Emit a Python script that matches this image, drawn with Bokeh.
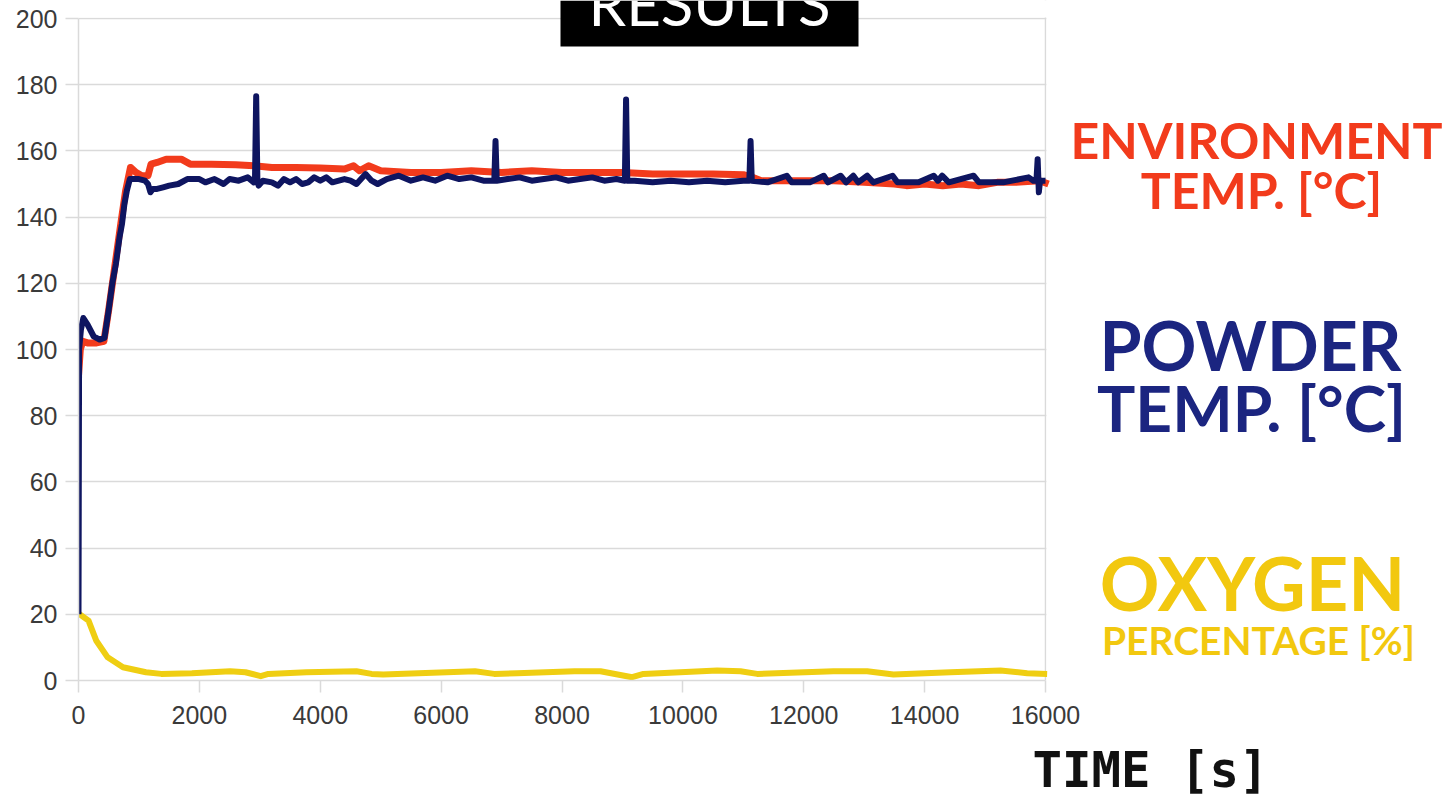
from bokeh.plotting import figure
from bokeh.models import Range1d, FixedTicker, Label, BoxAnnotation, LinearAxis
from bokeh.embed import file_html
from bokeh.resources import INLINE

# ---------------- data ----------------
x_ticks = [0, 2000, 4000, 6000, 8000, 10000, 12000, 14000, 16000]
y_ticks = [0, 20, 40, 60, 80, 100, 120, 140, 160, 180, 200]

env_t = [0, 30, 70, 150, 300, 420, 500, 600, 700, 780, 860, 950, 1050, 1150, 1200,
         1300, 1450, 1700, 1850, 2200, 2600, 2900, 3200, 3600, 4000, 4400, 4550,
         4650, 4800, 5000, 5500, 6000, 6500, 7000, 7500, 8000, 8500, 9000, 9500,
         10000, 10500, 11000, 11150, 11300, 12000, 12500, 13000, 13500, 13700,
         14000, 14300, 14600, 14900, 15200, 15500, 15900, 16050]
env_v = [92, 100, 102.5, 102, 102, 102.5, 112, 125, 138, 148, 155, 153.5, 152.5,
         152.5, 156, 156.5, 157.5, 157.5, 156, 156, 155.8, 155.5, 155, 155, 154.8,
         154.5, 155.5, 154, 155.5, 154, 153.5, 153.5, 154, 153.5, 154, 153.5, 153.5,
         153.5, 153, 153, 153, 152.8, 152, 151, 151, 151, 150.5, 150, 149.5, 150,
         149.5, 150, 149.5, 150.5, 150.5, 151, 150]

pow_t = [0, 10, 40, 80, 150, 250, 350, 430, 500, 560, 620, 680, 720, 760, 800, 850,
         900, 1000, 1100, 1150, 1190, 1230, 1300, 1400, 1500, 1650, 1800, 2000, 2100,
         2250, 2400, 2500, 2650, 2800, 2900, 2920, 2940, 2960, 2980, 3050, 3200, 3300,
         3400, 3500, 3600, 3700, 3800, 3900, 4000, 4100, 4200, 4400, 4500, 4600, 4750,
         4850, 4950, 5100, 5300, 5500, 5700, 5900, 6100, 6300, 6500, 6700, 6880, 6900,
         6920, 7100, 7300, 7500, 7700, 7900, 8100, 8300, 8500, 8700, 8900, 9040, 9060,
         9080, 9200, 9500, 9800, 10100, 10400, 10700, 11000, 11100, 11120, 11140,
         11400, 11720, 11800, 12100, 12330, 12400, 12610, 12700, 12820, 12900, 13050,
         13150, 13470, 13550, 13900, 14150, 14220, 14290, 14400, 14810, 14900, 15300,
         15720, 15800, 15850, 15870, 15890, 15910, 16000]
pow_v = [20, 100, 106, 109.5, 107.5, 104, 103, 103.5, 112, 120, 126, 134, 138, 144,
         148, 151.5, 151.5, 151.5, 151, 150, 147.5, 148.5, 148.5, 149, 149.5, 150,
         151.5, 151.5, 150.5, 151.5, 150, 151.5, 151, 152, 150.5, 151, 176.5, 151,
         149.5, 151, 150.5, 149.5, 151.5, 150.5, 151.5, 150, 150.5, 152, 151, 152,
         150.5, 151.5, 151, 150, 153, 151, 150, 151.5, 152.5, 151, 152, 151, 152.5,
         151.5, 152, 151, 151, 163, 151, 151.5, 152, 151, 151.5, 152, 151, 151.5,
         152, 151, 151.5, 151, 175.5, 151, 151, 150.5, 151, 150.5, 151, 150.5, 151,
         151, 163, 151, 150.5, 152.5, 150.5, 150.5, 152.5, 150.5, 152.5, 150.5,
         152.5, 150.5, 152.5, 150.5, 152.5, 150.5, 150.5, 152.5, 151, 152.5, 150.5,
         152.5, 150.5, 150.5, 152, 151, 151, 157.5, 147.5, 151, 151]

oxy_t = [0, 166, 292, 482, 736, 1116, 1369, 1876, 2508, 2762, 3015, 3142, 3772, 4598,
         4849, 5041, 6561, 6878, 7257, 8207, 8637, 9161, 9348, 10567, 10953, 11229,
         12492, 13049, 13485, 14427, 15255, 15697, 16027]
oxy_v = [20.3, 18.1, 12.1, 7.0, 4.0, 2.5, 2.0, 2.2, 2.8, 2.5, 1.3, 2.0, 2.5, 2.8, 2.0,
         1.8, 2.8, 2.0, 2.2, 2.8, 2.8, 1.0, 2.0, 3.0, 2.8, 2.0, 2.8, 2.8, 1.8, 2.5,
         3.0, 2.2, 2.0]

X_MAX, Y_MAX = 16000, 200

RED = "#F23B1C"
NAVY_LINE = "#0E1560"
NAVY_TEXT = "#1B2580"
YEL_LINE = "#EFCE12"
YEL_TEXT = "#F2C80F"
GRID = "#DADADA"

# ---------------- layout geometry (pixels) ----------------
W, H = 1454, 804
FL, FB = 78, 680             # frame left / x-axis baseline (px)
PX_RIGHT, PX_TOP = 1045, 18  # pixel of x=16000 / y=200
sx = X_MAX / (PX_RIGHT - FL)
sy = Y_MAX / (FB - PX_TOP)

def dx(px):
    return (px - FL) * sx

def dy(py):
    return (FB - py) * sy

p = figure(width=W, height=H, output_backend="svg", toolbar_location=None,
           x_range=Range1d(0, dx(W)), y_range=Range1d(0, dy(0)),
           min_border_left=FL, min_border_right=0, min_border_top=0,
           min_border_bottom=H - FB)
p.background_fill_color = "white"
p.border_fill_color = "white"
p.outline_line_color = None

p.ygrid.ticker = FixedTicker(ticks=y_ticks)
p.ygrid.grid_line_color = GRID
p.ygrid.grid_line_width = 1.5
p.xgrid.ticker = FixedTicker(ticks=[X_MAX])
p.xgrid.grid_line_color = GRID
p.xgrid.grid_line_width = 1.5

# hide grid parts outside the plotting area
p.add_layout(BoxAnnotation(left=X_MAX + 0.9 * sx, fill_color="white", fill_alpha=1,
                           line_color=None, level="underlay"))
p.add_layout(BoxAnnotation(bottom=Y_MAX + 0.9 * sy, fill_color="white", fill_alpha=1,
                           line_color=None, level="underlay"))

p.xaxis.ticker = FixedTicker(ticks=x_ticks)
p.yaxis.ticker = FixedTicker(ticks=y_ticks)
p.xaxis.bounds = (0, X_MAX)
p.yaxis.bounds = (0, Y_MAX)
for ax in (p.xaxis, p.yaxis):
    ax.axis_line_color = GRID
    ax.axis_line_width = 1.5
    ax.major_tick_line_color = GRID
    ax.major_tick_line_width = 1.5
    ax.major_tick_in = 0
    ax.minor_tick_line_color = None
    ax.major_label_text_font = "Liberation Sans"
    ax.major_label_text_font_size = "25px"
    ax.major_label_text_color = "#3A3A3A"
p.xaxis.major_tick_out = 12
p.xaxis.major_label_standoff = 13
p.yaxis.major_tick_out = 13
p.yaxis.major_label_standoff = 8

# "TIME [s]" as the single label of a second bottom axis
time_pos = round(dx(1150))
time_axis = LinearAxis(ticker=FixedTicker(ticks=[time_pos]),
                       major_label_overrides={time_pos: "TIME [s]"},
                       axis_line_color=None, major_tick_line_color=None,
                       minor_tick_line_color=None, major_tick_out=0, major_tick_in=0,
                       major_label_standoff=15,
                       major_label_text_font="DejaVu Sans Mono",
                       major_label_text_font_style="bold",
                       major_label_text_font_size="49px",
                       major_label_text_color="#111111")
p.add_layout(time_axis, "below")

p.line(oxy_t, oxy_v, line_color=YEL_LINE, line_width=6, line_join="round")
p.line(env_t, env_v, line_color=RED, line_width=7, line_join="round")
p.line(pow_t, pow_v, line_color=NAVY_LINE, line_width=6, line_join="round")

# ---------------- texts ----------------
p.add_layout(BoxAnnotation(left=dx(560), right=dx(858), bottom=dy(46),
                           fill_color="black", fill_alpha=1.0, line_color=None))

def lab(cx, base, txt, color, size, font="Lato", style="bold"):
    # Bokeh draws the alphabetic baseline ~0.41 em below the anchor; compensate
    anchor = base - 0.41 * size
    p.add_layout(Label(x=dx(cx), y=dy(anchor), text=txt, text_align="center",
                       text_baseline="alphabetic", text_color=color,
                       text_font=font, text_font_size=f"{size}px",
                       text_font_style=style))

lab(709, 27, "RESULTS", "white", 60, style="normal")
lab(1256, 160, "ENVIRONMENT", RED, 50)
lab(1261, 210, "TEMP. [°C]", RED, 50)
lab(1250, 372, "POWDER", NAVY_TEXT, 68)
lab(1251, 433, "TEMP. [°C]", NAVY_TEXT, 64)
lab(1252, 612, "OXYGEN", YEL_TEXT, 74)
lab(1258, 655, "PERCENTAGE [%]", YEL_TEXT, 39)

open("out.html", "w").write(file_html(p, INLINE))
